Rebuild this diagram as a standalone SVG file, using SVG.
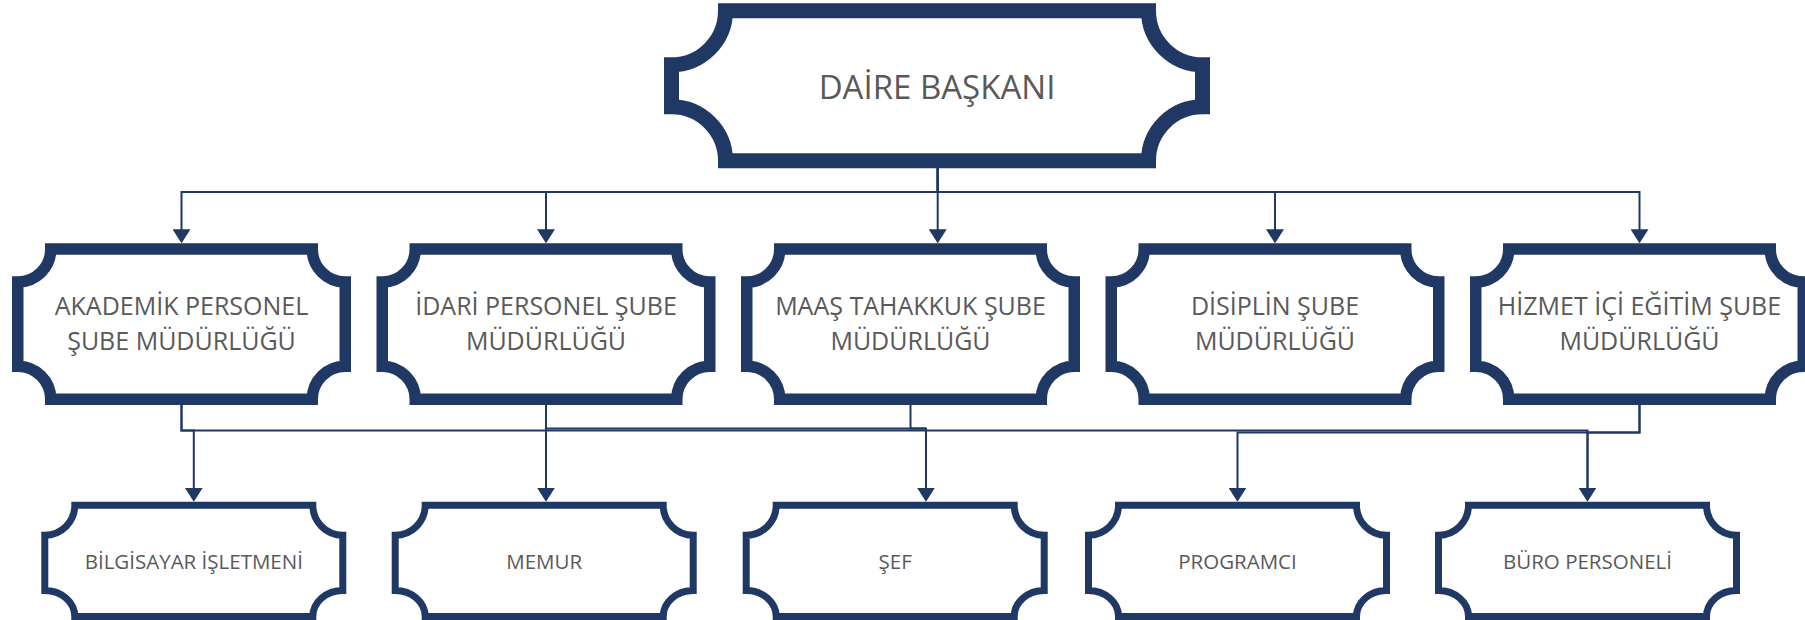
<svg xmlns="http://www.w3.org/2000/svg" xmlns:xlink="http://www.w3.org/1999/xlink" width="1805" height="620" viewBox="0 0 1805 620">
  <style>
    .frame { fill: #ffffff; stroke: #203864; stroke-linejoin: miter; stroke-miterlimit: 10; }
    .top { stroke-width: 15; }
    .mid { stroke-width: 11.5; }
    .bot { stroke-width: 7; }
    .label { font-family: "Open Sans", "Liberation Sans", sans-serif; fill: #595959; text-anchor: middle; }
    .t1 { font-size: 33px; }
    .t2 { font-size: 25px; }
    .t3 { font-size: 20.5px; }
    .conn { fill: none; stroke: #203864; stroke-width: 2; }
    .arrow { marker-end: url(#ah); }
  </style>
  <defs>
    <marker id="ah" markerUnits="userSpaceOnUse" viewBox="0 0 14 18" markerWidth="14" markerHeight="18" refX="4" refY="9" orient="auto">
      <path d="M0,0 L14,9 L0,18 Z" fill="#203864"/>
    </marker>
    <path id="midShape" class="frame mid" d="M38.75,249.05 H300.25 A33,33 0 0 0 333.25,282.05 V366.25 A33,33 0 0 0 300.25,399.25 H38.75 A33,33 0 0 0 5.75,366.25 V282.05 A33,33 0 0 0 38.75,249.05 Z"/>
    <path id="botShape" class="frame bot" d="M33.5,505.2 H271.5 A30,30 0 0 0 301.5,535.2 V590.5 A30,26 0 0 0 271.5,616.5 H33.5 A30,26 0 0 0 3.5,590.5 V535.2 A30,30 0 0 0 33.5,505.2 Z"/>
  </defs>

  <g id="connectors">
    <path class="conn arrow" d="M937.7,168 V192 H181.5 V233.3"/>
    <path class="conn arrow" d="M937.7,168 V192 H546 V233.3"/>
    <path class="conn arrow" d="M937.7,168 V233.3"/>
    <path class="conn arrow" d="M937.7,168 V192 H1275 V233.3"/>
    <path class="conn arrow" d="M937.7,168 V192 H1639.5 V233.3"/>

    <path class="conn arrow" d="M181.5,405 V430.5 H193.8 V491.7"/>
    <path class="conn" d="M181.5,405 V430.5 H1587.5 V491.7"/>
    <path class="conn arrow" d="M546,405 V491.7"/>
    <path class="conn" d="M546,405 V428.5 H926"/>
    <path class="conn arrow" d="M910.5,405 V428.5 H926 V491.7"/>
    <path class="conn arrow" d="M1639.5,405 V432.5 H1237.5 V491.7"/>
    <path class="conn arrow" d="M1639.5,405 V432.5 H1587.5 V491.7"/>
  </g>

  <g id="daire-baskani">
    <path class="frame top" d="M725.5,10.8 H1148.5 A54,54 0 0 0 1202.5,64.8 V106.8 A54,54 0 0 0 1148.5,160.8 H725.5 A54,54 0 0 0 671.5,106.8 V64.8 A54,54 0 0 0 725.5,10.8 Z"/>
    <text class="label t1" x="937" y="98.5">DAİRE BAŞKANI</text>
  </g>

  <g id="akademik-personel">
    <use href="#midShape" xlink:href="#midShape" transform="translate(12,0)"/>
    <text class="label t2" x="181.5" y="315">AKADEMİK PERSONEL</text>
    <text class="label t2" x="181.5" y="349.5">ŞUBE MÜDÜRLÜĞÜ</text>
  </g>
  <g id="idari-personel">
    <use href="#midShape" xlink:href="#midShape" transform="translate(376.5,0)"/>
    <text class="label t2" x="546" y="315">İDARİ PERSONEL ŞUBE</text>
    <text class="label t2" x="546" y="349.5">MÜDÜRLÜĞÜ</text>
  </g>
  <g id="maas-tahakkuk">
    <use href="#midShape" xlink:href="#midShape" transform="translate(741,0)"/>
    <text class="label t2" x="910.5" y="315">MAAŞ TAHAKKUK ŞUBE</text>
    <text class="label t2" x="910.5" y="349.5">MÜDÜRLÜĞÜ</text>
  </g>
  <g id="disiplin">
    <use href="#midShape" xlink:href="#midShape" transform="translate(1105.5,0)"/>
    <text class="label t2" x="1275" y="315">DİSİPLİN ŞUBE</text>
    <text class="label t2" x="1275" y="349.5">MÜDÜRLÜĞÜ</text>
  </g>
  <g id="hizmet-ici-egitim">
    <use href="#midShape" xlink:href="#midShape" transform="translate(1470,0)"/>
    <text class="label t2" x="1639.5" y="315">HİZMET İÇİ EĞİTİM ŞUBE</text>
    <text class="label t2" x="1639.5" y="349.5">MÜDÜRLÜĞÜ</text>
  </g>

  <g id="bilgisayar-isletmeni">
    <use href="#botShape" xlink:href="#botShape" transform="translate(41.3,0)"/>
    <text class="label t3" x="193.8" y="569">BİLGİSAYAR İŞLETMENİ</text>
  </g>
  <g id="memur">
    <use href="#botShape" xlink:href="#botShape" transform="translate(391.7,0)"/>
    <text class="label t3" x="544.2" y="569">MEMUR</text>
  </g>
  <g id="sef">
    <use href="#botShape" xlink:href="#botShape" transform="translate(742.7,0)"/>
    <text class="label t3" x="895.2" y="569">ŞEF</text>
  </g>
  <g id="programci">
    <use href="#botShape" xlink:href="#botShape" transform="translate(1085,0)"/>
    <text class="label t3" x="1237.5" y="569">PROGRAMCI</text>
  </g>
  <g id="buro-personeli">
    <use href="#botShape" xlink:href="#botShape" transform="translate(1435,0)"/>
    <text class="label t3" x="1587.5" y="569">BÜRO PERSONELİ</text>
  </g>
</svg>
